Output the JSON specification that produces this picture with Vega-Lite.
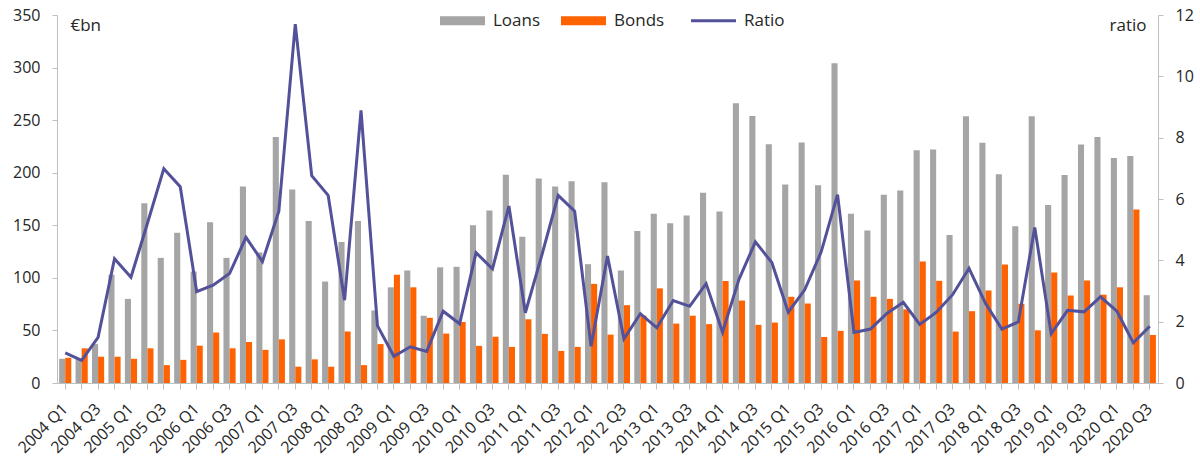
{
  "$schema": "https://vega.github.io/schema/vega-lite/v6.json",
  "autosize": {"type": "none"},
  "width": 1101,
  "height": 368,
  "padding": {"left": 57, "top": 15, "right": 42, "bottom": 89},
  "background": "white",
  "config": {
    "view": {"stroke": null},
    "font": "Open Sans",
    "axis": {
      "grid": false,
      "domainColor": "#BFBFBF",
      "tickColor": "#BFBFBF",
      "labelColor": "#262626",
      "titleColor": "#262626",
      "labelFontSize": 16,
      "titleFontSize": 17,
      "titleFontWeight": "normal"
    }
  },
  "data": {
    "values": [
      {"quarter": "2004 Q1", "Loans": 23, "Bonds": 24, "Ratio": 0.98},
      {"quarter": "2004 Q2", "Loans": 23, "Bonds": 33, "Ratio": 0.74},
      {"quarter": "2004 Q3", "Loans": 37, "Bonds": 25, "Ratio": 1.49},
      {"quarter": "2004 Q4", "Loans": 103, "Bonds": 25, "Ratio": 4.05},
      {"quarter": "2005 Q1", "Loans": 80, "Bonds": 23, "Ratio": 3.45},
      {"quarter": "2005 Q2", "Loans": 171, "Bonds": 33, "Ratio": 5.2},
      {"quarter": "2005 Q3", "Loans": 119, "Bonds": 17, "Ratio": 6.99},
      {"quarter": "2005 Q4", "Loans": 143, "Bonds": 22, "Ratio": 6.4},
      {"quarter": "2006 Q1", "Loans": 106, "Bonds": 35.5, "Ratio": 2.98},
      {"quarter": "2006 Q2", "Loans": 153, "Bonds": 48, "Ratio": 3.19},
      {"quarter": "2006 Q3", "Loans": 119, "Bonds": 33, "Ratio": 3.57},
      {"quarter": "2006 Q4", "Loans": 187, "Bonds": 39, "Ratio": 4.75},
      {"quarter": "2007 Q1", "Loans": 124, "Bonds": 31.5, "Ratio": 3.96},
      {"quarter": "2007 Q2", "Loans": 234, "Bonds": 41.5, "Ratio": 5.6},
      {"quarter": "2007 Q3", "Loans": 184, "Bonds": 15.5, "Ratio": 11.7},
      {"quarter": "2007 Q4", "Loans": 154, "Bonds": 22.5, "Ratio": 6.76},
      {"quarter": "2008 Q1", "Loans": 96.5, "Bonds": 15.5, "Ratio": 6.12},
      {"quarter": "2008 Q2", "Loans": 134, "Bonds": 49, "Ratio": 2.7},
      {"quarter": "2008 Q3", "Loans": 154, "Bonds": 17, "Ratio": 8.89},
      {"quarter": "2008 Q4", "Loans": 69, "Bonds": 37, "Ratio": 1.87},
      {"quarter": "2009 Q1", "Loans": 91, "Bonds": 103, "Ratio": 0.87},
      {"quarter": "2009 Q2", "Loans": 107, "Bonds": 91, "Ratio": 1.18},
      {"quarter": "2009 Q3", "Loans": 64, "Bonds": 62, "Ratio": 1.03},
      {"quarter": "2009 Q4", "Loans": 110, "Bonds": 47, "Ratio": 2.34},
      {"quarter": "2010 Q1", "Loans": 110.5, "Bonds": 58, "Ratio": 1.93},
      {"quarter": "2010 Q2", "Loans": 150, "Bonds": 35.3, "Ratio": 4.25},
      {"quarter": "2010 Q3", "Loans": 164, "Bonds": 44, "Ratio": 3.72},
      {"quarter": "2010 Q4", "Loans": 198, "Bonds": 34.3, "Ratio": 5.77},
      {"quarter": "2011 Q1", "Loans": 139, "Bonds": 60.6, "Ratio": 2.29},
      {"quarter": "2011 Q2", "Loans": 194.4, "Bonds": 46.7, "Ratio": 4.16},
      {"quarter": "2011 Q3", "Loans": 187, "Bonds": 30.5, "Ratio": 6.12},
      {"quarter": "2011 Q4", "Loans": 192, "Bonds": 34.3, "Ratio": 5.6},
      {"quarter": "2012 Q1", "Loans": 113, "Bonds": 94.3, "Ratio": 1.2},
      {"quarter": "2012 Q2", "Loans": 191, "Bonds": 46, "Ratio": 4.14},
      {"quarter": "2012 Q3", "Loans": 107, "Bonds": 74, "Ratio": 1.44},
      {"quarter": "2012 Q4", "Loans": 144.5, "Bonds": 64, "Ratio": 2.26},
      {"quarter": "2013 Q1", "Loans": 161, "Bonds": 90, "Ratio": 1.8},
      {"quarter": "2013 Q2", "Loans": 152, "Bonds": 56.5, "Ratio": 2.69},
      {"quarter": "2013 Q3", "Loans": 159.4, "Bonds": 64, "Ratio": 2.5},
      {"quarter": "2013 Q4", "Loans": 181, "Bonds": 56, "Ratio": 3.24},
      {"quarter": "2014 Q1", "Loans": 163, "Bonds": 97, "Ratio": 1.66},
      {"quarter": "2014 Q2", "Loans": 266, "Bonds": 78.4, "Ratio": 3.38},
      {"quarter": "2014 Q3", "Loans": 254, "Bonds": 55.3, "Ratio": 4.6},
      {"quarter": "2014 Q4", "Loans": 227, "Bonds": 57.5, "Ratio": 3.93},
      {"quarter": "2015 Q1", "Loans": 188.7, "Bonds": 82, "Ratio": 2.31},
      {"quarter": "2015 Q2", "Loans": 228.7, "Bonds": 75.6, "Ratio": 3.04},
      {"quarter": "2015 Q3", "Loans": 188, "Bonds": 43.8, "Ratio": 4.27},
      {"quarter": "2015 Q4", "Loans": 304, "Bonds": 49.6, "Ratio": 6.14},
      {"quarter": "2016 Q1", "Loans": 161, "Bonds": 97.5, "Ratio": 1.65},
      {"quarter": "2016 Q2", "Loans": 145, "Bonds": 82, "Ratio": 1.76},
      {"quarter": "2016 Q3", "Loans": 179, "Bonds": 80, "Ratio": 2.27},
      {"quarter": "2016 Q4", "Loans": 183, "Bonds": 70, "Ratio": 2.63},
      {"quarter": "2017 Q1", "Loans": 221.4, "Bonds": 115.6, "Ratio": 1.91},
      {"quarter": "2017 Q2", "Loans": 222, "Bonds": 97.2, "Ratio": 2.3},
      {"quarter": "2017 Q3", "Loans": 140.7, "Bonds": 48.9, "Ratio": 2.88},
      {"quarter": "2017 Q4", "Loans": 253.8, "Bonds": 68.3, "Ratio": 3.74},
      {"quarter": "2018 Q1", "Loans": 228.4, "Bonds": 88, "Ratio": 2.6},
      {"quarter": "2018 Q2", "Loans": 198.5, "Bonds": 112.7, "Ratio": 1.76},
      {"quarter": "2018 Q3", "Loans": 149.2, "Bonds": 75.3, "Ratio": 1.99},
      {"quarter": "2018 Q4", "Loans": 253.8, "Bonds": 50.1, "Ratio": 5.07},
      {"quarter": "2019 Q1", "Loans": 169.2, "Bonds": 105.1, "Ratio": 1.61},
      {"quarter": "2019 Q2", "Loans": 197.8, "Bonds": 83.2, "Ratio": 2.37},
      {"quarter": "2019 Q3", "Loans": 226.8, "Bonds": 97.5, "Ratio": 2.32},
      {"quarter": "2019 Q4", "Loans": 234, "Bonds": 84, "Ratio": 2.81},
      {"quarter": "2020 Q1", "Loans": 214, "Bonds": 91, "Ratio": 2.34},
      {"quarter": "2020 Q2", "Loans": 216, "Bonds": 165, "Ratio": 1.31},
      {"quarter": "2020 Q3", "Loans": 83.5, "Bonds": 45.7, "Ratio": 1.85}
    ]
  },
  "layer": [
    {
      "transform": [{"fold": ["Loans", "Bonds"], "as": ["series", "amount"]}],
      "mark": {"type": "bar"},
      "encoding": {
        "x": {
          "field": "quarter",
          "type": "ordinal",
          "sort": null,
          "scale": {"paddingInner": 0, "paddingOuter": 0},
          "axis": {
            "title": null,
            "labelAngle": -45,
            "labelAlign": "right",
            "labelBaseline": "middle",
            "labelOverlap": false,
            "labelPadding": 17,
            "tickSize": 6,
            "labelExpr": "indexof(datum.value, 'Q1') > 0 || indexof(datum.value, 'Q3') > 0 ? datum.value : ''"
          }
        },
        "xOffset": {
          "field": "series",
          "type": "nominal",
          "sort": ["Loans", "Bonds"],
          "scale": {"paddingInner": 0, "paddingOuter": 0.35}
        },
        "y": {
          "field": "amount",
          "type": "quantitative",
          "scale": {"domain": [0, 350], "nice": false},
          "axis": {
            "orient": "left",
            "values": [0, 50, 100, 150, 200, 250, 300, 350],
            "tickSize": 5,
            "labelPadding": 12,
            "title": "€bn",
            "titleAngle": 0,
            "titleAlign": "left",
            "titleBaseline": "middle",
            "titleX": 13,
            "titleY": 10
          }
        },
        "color": {
          "field": "series",
          "type": "nominal",
          "scale": {
            "domain": ["Loans", "Bonds", "Ratio"],
            "range": ["#A5A5A5", "#FF6200", "#525199"]
          },
          "legend": {
            "title": null,
            "orient": "none",
            "direction": "horizontal",
            "legendX": 397,
            "legendY": -3,
            "labelFontSize": 17,
            "labelColor": "#262626",
            "labelOffset": 22,
            "columnPadding": 20,
            "symbolSize": 2025,
            "encode": {
              "symbols": {
                "update": {
                  "shape": {"signal": "datum.value === 'Ratio' ? 'stroke' : 'M-1,-0.2L1,-0.2L1,0.2L-1,0.2Z'"},
                  "fill": {"signal": "datum.value === 'Loans' ? '#A5A5A5' : datum.value === 'Bonds' ? '#FF6200' : 'transparent'"},
                  "stroke": {"signal": "datum.value === 'Ratio' ? '#525199' : 'transparent'"},
                  "strokeWidth": {"signal": "datum.value === 'Ratio' ? 3 : 0"}
                }
              }
            }
          }
        }
      }
    },
    {
      "mark": {"type": "line", "strokeWidth": 3, "color": "#525199"},
      "encoding": {
        "x": {"field": "quarter", "type": "ordinal", "sort": null},
        "y": {
          "field": "Ratio",
          "type": "quantitative",
          "scale": {"domain": [0, 12], "nice": false},
          "axis": {
            "orient": "right",
            "values": [0, 2, 4, 6, 8, 10, 12],
            "tickSize": 5,
            "labelPadding": 12,
            "title": "ratio",
            "titleAngle": 0,
            "titleAlign": "right",
            "titleBaseline": "middle",
            "titleX": -12,
            "titleY": 10
          }
        }
      }
    }
  ],
  "resolve": {"scale": {"y": "independent"}}
}
